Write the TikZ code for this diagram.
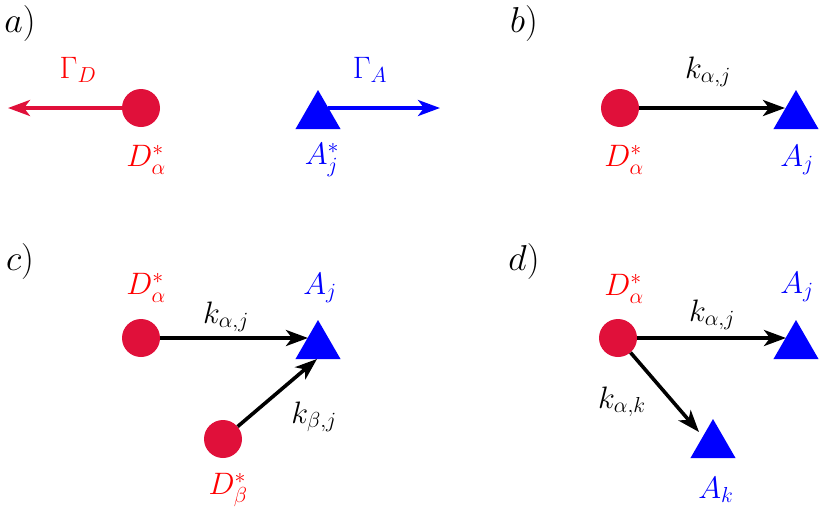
\RequirePackage{fix-cm}
\documentclass[tikz,border=0pt]{standalone}
\usetikzlibrary{arrows.meta,shapes.geometric}
\definecolor{dred}{RGB}{224,16,58}
\definecolor{tred}{RGB}{255,0,0}
\definecolor{ablue}{RGB}{0,0,255}
\begin{document}
\begin{tikzpicture}[x=1pt,y=-1pt,
  font=\fontsize{31}{36}\selectfont,
  donor/.style={circle,fill=dred,minimum size=38pt,inner sep=0pt},
  acc/.style={regular polygon,regular polygon sides=3,fill=ablue,minimum size=52pt,inner sep=0pt},
  rate/.style={line width=3.6pt,-{Stealth[length=22pt,width=16pt,inset=6pt]}},
  lbl/.style={inner sep=0pt},
  plbl/.style={inner sep=0pt,font=\fontsize{36}{40}\selectfont},
  rl/.style={lbl,text=tred},
  bl/.style={lbl,text=ablue}]
\useasboundingbox (0,0) rectangle (830,531);
% panel labels
\node[plbl] (pa) at (20,23) {$a)$};
\node[plbl] (pb) at (524,23) {$b)$};
\node[plbl] (pc) at (20,261) {$c)$};
\node[plbl] (pd) at (524,261) {$d)$};
% panel a
\node[donor] (Da) at (141,108) {};
\coordinate (Daend) at (8,108);
\draw[rate,dred] (Da) -- (Daend);
\node[rl] (GD) at (78,70) {$\Gamma_D$};
\node[rl] (Dalbl) at (146,160) {$D_\alpha^*$};
\node[acc] (Aa) at (318,116) {};
\coordinate (Aastart) at (328,108);
\coordinate (Aaend) at (440,108);
\draw[rate,ablue] (Aastart) -- (Aaend);
\node[bl] (GA) at (370,70) {$\Gamma_A$};
\node[bl] (Aalbl) at (322,160) {$A_j^*$};
% panel b
\node[donor] (Db) at (620,108) {};
\node[acc] (Ab) at (796,116) {};
\coordinate (Abtip) at (785,108);
\draw[rate] (Db) -- (Abtip);
\node[lbl] (kb) at (708,72) {$k_{\alpha,j}$};
\node[rl] (Dblbl) at (624,160) {$D_\alpha^*$};
\node[bl] (Ablbl) at (797,160) {$A_j$};
% panel c
\node[donor] (Dc1) at (141,338) {};
\node[acc] (Ac) at (318,346) {};
\coordinate (Actip) at (308,338);
\draw[rate] (Dc1) -- (Actip);
\node[rl] (Dc1lbl) at (146,288) {$D_\alpha^*$};
\node[bl] (Aclbl) at (320,288) {$A_j$};
\node[lbl] (kc1) at (226,317) {$k_{\alpha,j}$};
\node[donor] (Dc2) at (223,439) {};
\coordinate (Acbot) at (317,359);
\draw[rate] (Dc2) -- (Acbot);
\node[lbl] (kc2) at (314,417) {$k_{\beta,j}$};
\node[rl] (Dc2lbl) at (228,490) {$D_\beta^*$};
% panel d
\node[donor] (Dd) at (618,338) {};
\node[acc] (Ad1) at (796,346) {};
\coordinate (Ad1tip) at (786,338);
\draw[rate] (Dd) -- (Ad1tip);
\node[rl] (Ddlbl) at (624,289) {$D_\alpha^*$};
\node[bl] (Ad1lbl) at (797,287) {$A_j$};
\node[lbl] (kd1) at (712,315) {$k_{\alpha,j}$};
\node[acc] (Ad2) at (713,445) {};
\coordinate (Ad2tip) at (699,432);
\draw[rate] (Dd) -- (Ad2tip);
\node[lbl] (kd2) at (622,402) {$k_{\alpha,k}$};
\node[bl] (Ad2lbl) at (716,490) {$A_k$};
\end{tikzpicture}
\end{document}
